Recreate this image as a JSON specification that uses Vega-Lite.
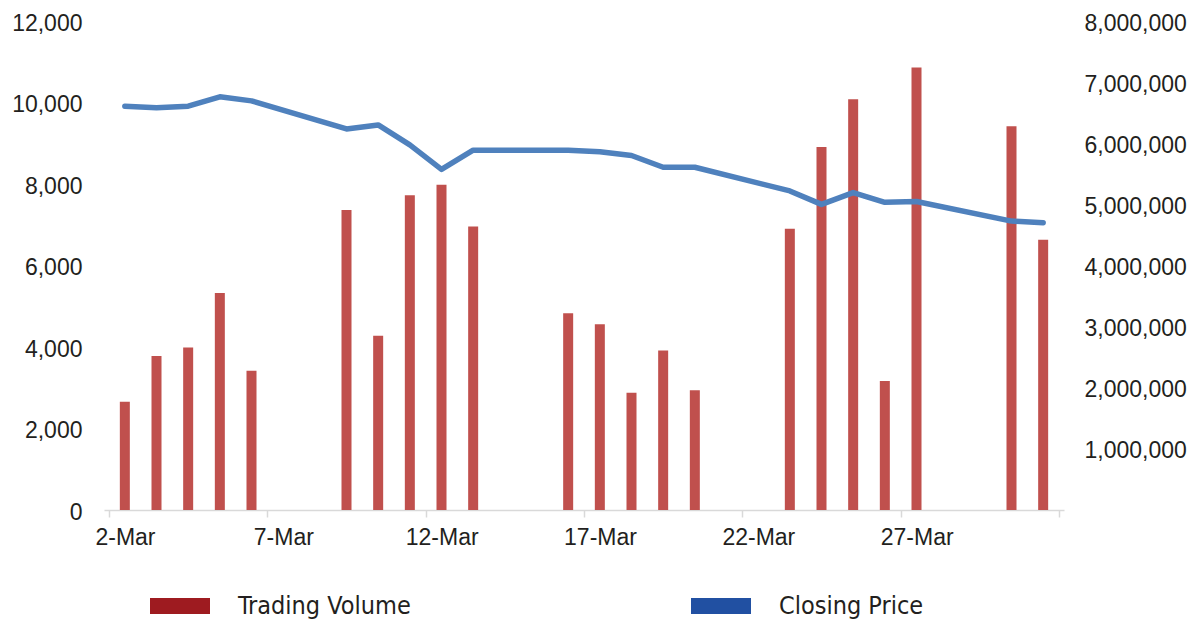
{
  "$schema": "https://vega.github.io/schema/vega-lite/v6.json",
  "width": 960,
  "height": 489,
  "autosize": {"type": "none"},
  "padding": {"left": 104, "top": 21, "right": 135, "bottom": 109},
  "background": "#FFFFFF",
  "config": {
    "view": {"stroke": null},
    "axis": {"labelFont": "Liberation Sans", "labelFontSize": 23, "labelColor": "#231F20", "grid": false, "title": null}
  },
  "data": {
    "values": [
      {"day": 2, "volume": 1772000, "price": 9910},
      {"day": 3, "volume": 2520000, "price": 9870},
      {"day": 4, "volume": 2660000, "price": 9910},
      {"day": 5, "volume": 3550000, "price": 10140},
      {"day": 6, "volume": 2280000, "price": 10040},
      {"day": 9, "volume": 4910000, "price": 9350},
      {"day": 10, "volume": 2850000, "price": 9450},
      {"day": 11, "volume": 5150000, "price": 8960},
      {"day": 12, "volume": 5320000, "price": 8360},
      {"day": 13, "volume": 4640000, "price": 8830},
      {"day": 16, "volume": 3220000, "price": 8830},
      {"day": 17, "volume": 3040000, "price": 8790},
      {"day": 18, "volume": 1920000, "price": 8700},
      {"day": 19, "volume": 2610000, "price": 8410},
      {"day": 20, "volume": 1960000, "price": 8410},
      {"day": 23, "volume": 4600000, "price": 7830},
      {"day": 24, "volume": 5940000, "price": 7500},
      {"day": 25, "volume": 6720000, "price": 7790},
      {"day": 26, "volume": 2110000, "price": 7550},
      {"day": 27, "volume": 7240000, "price": 7570},
      {"day": 30, "volume": 6280000, "price": 7090},
      {"day": 31, "volume": 4420000, "price": 7050}
    ]
  },
  "encoding": {
    "x": {
      "field": "day",
      "type": "quantitative",
      "scale": {"domain": [1.5, 31.5], "nice": false, "zero": false},
      "axis": {
        "values": [1.5, 6.5, 11.5, 16.5, 21.5, 26.5, 31.5],
        "labelExpr": "datum.value < 31 ? (datum.value + 0.5) + '-Mar' : ''",
        "labelOffset": 16,
        "labelFlush": false,
        "labelOverlap": false,
        "labelBound": false,
        "domainColor": "#D9D9D9",
        "domainWidth": 1.5,
        "tickColor": "#D9D9D9",
        "tickWidth": 1.5,
        "tickSize": 7,
        "labelPadding": 9
      }
    }
  },
  "layer": [
    {
      "mark": {"type": "bar", "orient": "vertical", "size": 10, "color": "#C0504D"},
      "encoding": {
        "y": {
          "field": "volume",
          "type": "quantitative",
          "scale": {"domain": [0, 8000000], "nice": false},
          "axis": {
            "orient": "right",
            "values": [1000000, 2000000, 3000000, 4000000, 5000000, 6000000, 7000000, 8000000],
            "format": ",.0f",
            "domain": false,
            "ticks": false,
            "labelPadding": 20,
            "labelOffset": 2
          }
        }
      }
    },
    {
      "mark": {"type": "line", "color": "#4F81BD", "strokeWidth": 5.5, "strokeCap": "round", "strokeJoin": "round"},
      "encoding": {
        "y": {
          "field": "price",
          "type": "quantitative",
          "scale": {"domain": [0, 12000], "nice": false},
          "axis": {
            "orient": "left",
            "values": [0, 2000, 4000, 6000, 8000, 10000, 12000],
            "format": ",.0f",
            "domain": false,
            "ticks": false,
            "labelPadding": 22,
            "labelOffset": 2
          }
        }
      }
    },
    {
      "transform": [{"filter": "false"}],
      "mark": {"type": "point", "filled": true, "opacity": 1},
      "encoding": {
        "color": {
          "field": "series",
          "type": "nominal",
          "scale": {"domain": ["Trading Volume", "Closing Price"], "range": ["#9E1B20", "#2150A2"]},
          "legend": {
            "orient": "none",
            "legendX": 46,
            "legendY": 555,
            "direction": "horizontal",
            "title": null,
            "symbolType": "M-1,-0.2667H1V0.2667H-1Z",
            "symbolSize": 3600,
            "symbolStrokeWidth": 0,
            "symbolOpacity": 1,
            "labelOffset": 28,
            "columnPadding": 280,
            "labelFont": "Liberation Sans Narrow, DejaVu Sans Condensed, sans-serif",
            "labelFontSize": 25,
            "labelColor": "#231F20",
            "labelLimit": 400
          }
        }
      }
    }
  ],
  "resolve": {"scale": {"y": "independent"}, "axis": {"y": "independent"}}
}
